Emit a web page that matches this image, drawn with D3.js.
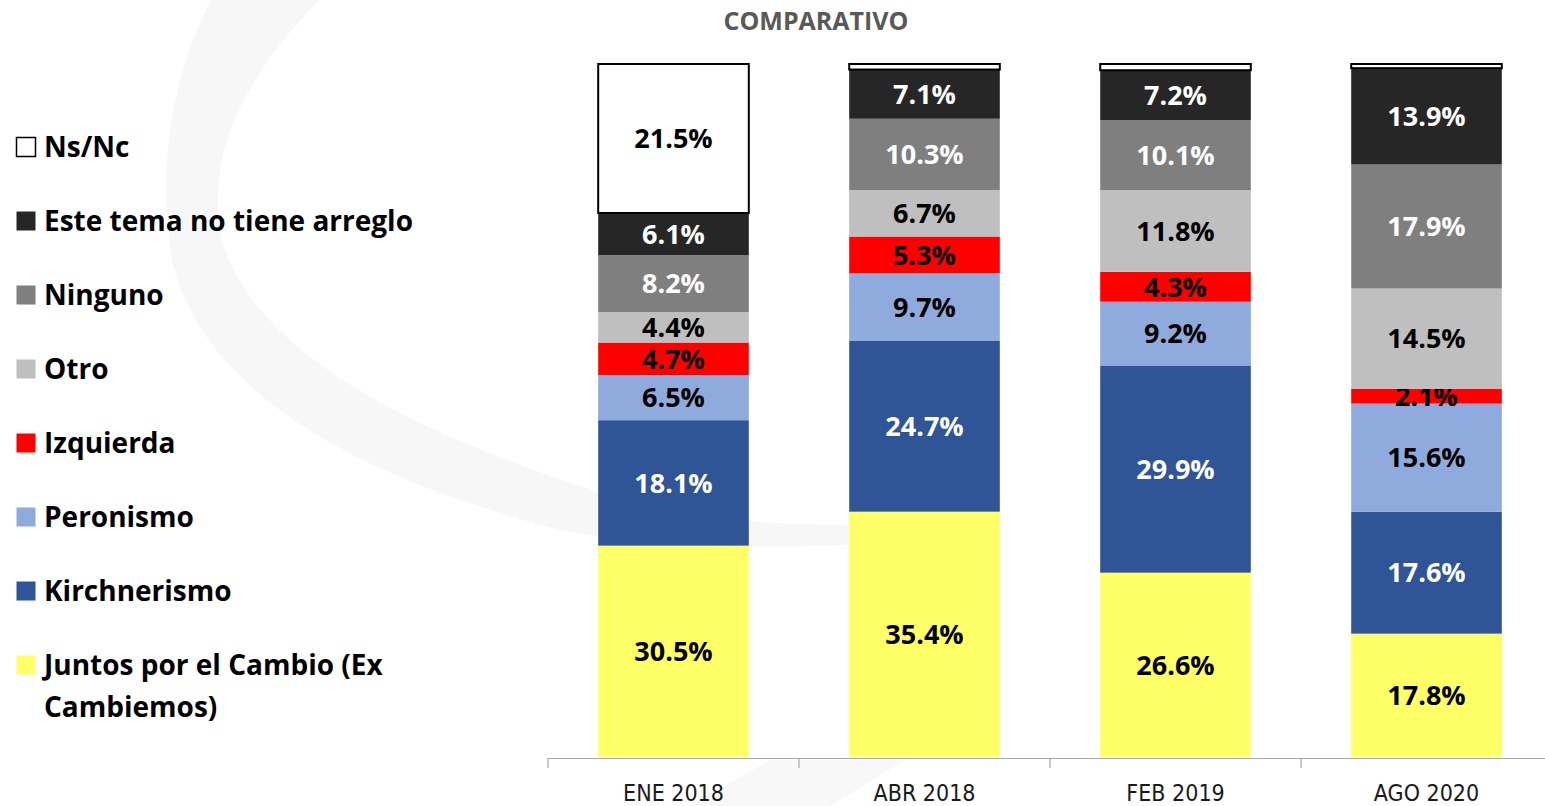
<!DOCTYPE html>
<html>
<head>
<meta charset="utf-8">
<script src="https://cdn.jsdelivr.net/npm/d3@7"></script>
<style>
  body { margin: 0; background: #fff; }
  svg { display: block; }
</style>
</head>
<body>
<div id="chart"></div>
<script>
// Data
const periods = ["ENE 2018", "ABR 2018", "FEB 2019", "AGO 2020"];
const categories = ["Juntos por el Cambio (Ex Cambiemos)", "Kirchnerismo", "Peronismo", "Izquierda",
    "Otro", "Ninguno", "Este tema no tiene arreglo", "Ns/Nc"];
const juntos = [30.5, 35.4, 26.6, 17.8];
const kirchnerismo = [18.1, 24.7, 29.9, 17.6];
const peronismo = [6.5, 9.7, 9.2, 15.6];
const izquierda = [4.7, 5.3, 4.3, 2.1];
const otro = [4.4, 6.7, 11.8, 14.5];
const ninguno = [8.2, 10.3, 10.1, 17.9];
const sinArreglo = [6.1, 7.1, 7.2, 13.9];
const nsnc = [21.5, 0.8, 0.9, 0.6];
const seriesValues = [juntos, kirchnerismo, peronismo, izquierda, otro, ninguno, sinArreglo, nsnc];

const colors = ["#ffff66", "#2f5597", "#8faadc", "#ff0000", "#bfbfbf", "#7f7f7f", "#262626", "#ffffff"];
const labelColors = ["#000", "#fff", "#000", "#000", "#000", "#fff", "#fff", "#000"];

const width = 1545, height = 806;
const margin = { top: 64, bottom: 49, left: 548, right: -7 };
const font = "'Open Sans', 'Noto Sans', sans-serif";

const table = periods.map((p, i) => {
    const row = { period: p };
    categories.forEach((c, k) => { row[c] = seriesValues[k][i]; });
    return row;
});

const stacked = d3.stack().keys(categories)(table);

const x = d3.scaleBand()
    .domain(periods)
    .range([margin.left, width - margin.right])
    .paddingInner(0.4)
    .paddingOuter(0.2);

const y = d3.scaleLinear()
    .domain([0, 100])
    .range([height - margin.bottom, margin.top]);

const svg = d3.select("#chart")
    .append("svg")
    .attr("width", width)
    .attr("height", height);

// faint watermark swoosh
svg.append("path")
    .attr("d", "M211,0 C170,80 158,170 172,260 C200,380 330,470 560,530 C660,550 800,552 980,536 L980,520 C800,532 680,522 580,486 C380,420 250,340 222,240 C205,160 240,80 320,0 Z")
    .attr("fill", "#f7f7f7");
svg.append("path")
    .attr("d", "M690,806 L770,760 L905,760 L830,806 Z")
    .attr("fill", "#f8f8f8");

// title
svg.append("text")
    .attr("x", 816)
    .attr("y", 30)
    .attr("text-anchor", "middle")
    .attr("font-family", font)
    .attr("font-weight", "bold")
    .attr("font-size", "25px")
    .attr("fill", "#595959")
    .text("COMPARATIVO");

// bars
const groups = svg.append("g")
    .selectAll("g")
    .data(stacked)
    .join("g")
    .attr("fill", (d, k) => colors[k]);

groups.selectAll("rect")
    .data(d => d.map(v => ({ v, key: d.key, k: d.index })))
    .join("rect")
    .attr("x", d => x(d.v.data.period))
    .attr("y", d => y(d.v[1]))
    .attr("width", x.bandwidth())
    .attr("height", d => y(d.v[0]) - y(d.v[1]))
    .attr("stroke", d => d.key === "Ns/Nc" ? "#000" : "none")
    .attr("stroke-width", 2);

// value labels
groups.selectAll("text")
    .data(d => d.map(v => ({ v, k: d.index })).filter(d => d.v[1] - d.v[0] >= 1))
    .join("text")
    .attr("x", d => x(d.v.data.period) + x.bandwidth() / 2)
    .attr("y", d => (y(d.v[0]) + y(d.v[1])) / 2)
    .attr("dy", "0.36em")
    .attr("text-anchor", "middle")
    .attr("font-family", font)
    .attr("font-weight", "bold")
    .attr("font-size", "27px")
    .attr("fill", d => labelColors[d.k])
    .text(d => (d.v[1] - d.v[0]).toFixed(1) + "%");

// x axis
const axis = svg.append("g")
    .attr("transform", `translate(0,${height - margin.bottom + 1})`)
    .call(d3.axisBottom(x).tickSize(0).tickPadding(27));
axis.select(".domain").attr("stroke", "#a6a6a6").attr("stroke-width", 1.2);
axis.selectAll(".tick text")
    .attr("font-family", "'Liberation Sans Narrow', 'DejaVu Sans Condensed', 'Open Sans', sans-serif")
    .attr("font-size", "23px")
    .attr("fill", "#1a1a1a");
axis.selectAll(".sep")
    .data(d3.range(periods.length + 1))
    .join("line")
    .attr("class", "sep")
    .attr("x1", i => x.range()[0] + i * x.step())
    .attr("x2", i => x.range()[0] + i * x.step())
    .attr("y1", 0)
    .attr("y2", 10)
    .attr("stroke", "#a6a6a6")
    .attr("stroke-width", 1.2);

// legend (top-down: reverse of stack order)
const legendOrder = categories.map((c, k) => k).reverse();
const legend = svg.append("g")
    .selectAll("g")
    .data(legendOrder)
    .join("g")
    .attr("transform", (k, i) => `translate(16,${147 + i * 74})`);

legend.append("rect")
    .attr("x", 0.5)
    .attr("y", -9.5)
    .attr("width", 19)
    .attr("height", 19)
    .attr("fill", k => colors[k])
    .attr("stroke", k => categories[k] === "Ns/Nc" ? "#000" : "none")
    .attr("stroke-width", 1.5);

legend.each(function(k) {
    const g = d3.select(this);
    const t = g.append("text")
        .attr("x", 28)
        .attr("y", 0)
        .attr("dy", "0.36em")
        .attr("font-family", font)
        .attr("font-weight", "bold")
        .attr("font-size", "28px")
        .attr("fill", "#000");
    // wrap long names
    const words = categories[k].split(" ");
    let line = [];
    let tspan = t.append("tspan").attr("x", 28);
    words.forEach(w => {
        line.push(w);
        tspan.text(line.join(" "));
        if (tspan.node().getComputedTextLength() > 400 && line.length > 1) {
            line.pop();
            tspan.text(line.join(" "));
            line = [w];
            tspan = t.append("tspan").attr("x", 28).attr("dy", "42px").text(w);
        }
    });
});
</script>
</body>
</html>
